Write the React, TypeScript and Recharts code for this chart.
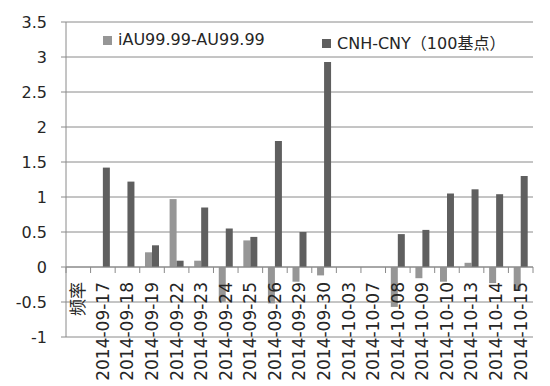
import React from 'react';
import {
  Bar,
  BarChart,
  CartesianGrid,
  Legend,
  ReferenceLine,
  XAxis,
  YAxis,
} from 'recharts';

const categories = [
  '频率',
  '2014-09-17',
  '2014-09-18',
  '2014-09-19',
  '2014-09-22',
  '2014-09-23',
  '2014-09-24',
  '2014-09-25',
  '2014-09-26',
  '2014-09-29',
  '2014-09-30',
  '2014-10-03',
  '2014-10-07',
  '2014-10-08',
  '2014-10-09',
  '2014-10-10',
  '2014-10-13',
  '2014-10-14',
  '2014-10-15',
];

const iauSpread = [
  null, 0, 0, 0.21, 0.97, 0.09, -0.5, 0.38, -0.52, -0.21, -0.12, 0, 0, -0.57,
  -0.16, -0.21, 0.06, -0.23, -0.34,
];

const cnhSpread = [
  null, 1.42, 1.22, 0.31, 0.09, 0.85, 0.55, 0.43, 1.8, 0.5, 2.93, 0, 0, 0.47,
  0.53, 1.05, 1.11, 1.04, 1.3,
];

const yTicks = [-1, -0.5, 0, 0.5, 1, 1.5, 2, 2.5, 3, 3.5];

const seriesNames = ['iAU99.99-AU99.99', 'CNH-CNY（100基点）'];

const data = categories.map((name, i) => ({
  name,
  iau: iauSpread[i],
  cnh: cnhSpread[i],
}));

const W = 550;
const H = 386;
const M = { top: 22, right: 17, bottom: 0, left: 0 };
const Y_AXIS_W = 66;
const X_AXIS_H = 49;
const plotW = W - M.left - M.right - Y_AXIS_W;
const plotH = H - M.top - M.bottom - X_AXIS_H;
const yMin = -1;
const yMax = 3.5;
const zeroY = M.top + (plotH * yMax) / (yMax - yMin);
const band = plotW / categories.length;

const FONT = '"DejaVu Sans", "Noto Sans CJK SC", sans-serif';
const GRID = '#8a8a8a';
const TEXT = '#262626';

const DateTick = (props: any) => {
  const { x, payload, index } = props;
  const last = index === categories.length - 1;
  return (
    <g>
      <line x1={x - band / 2} x2={x - band / 2} y1={zeroY} y2={zeroY + 6} stroke={GRID} />
      {last && (
        <line x1={x + band / 2} x2={x + band / 2} y1={zeroY} y2={zeroY + 6} stroke={GRID} />
      )}
      <text
        x={x}
        y={zeroY + 15}
        transform={`rotate(-90, ${x}, ${zeroY + 15})`}
        textAnchor='end'
        dy='0.35em'
        fontSize={17}
        fontFamily={FONT}
        fill={TEXT}
      >
        {payload.value}
      </text>
    </g>
  );
};

const legendPos = [103, 322];

const LegendContent = (props: any) => {
  const { payload } = props;
  return (
    <div style={{ position: 'relative', height: 0 }}>
      {payload.map((p: any) => (
        <div
          key={p.value}
          style={{
            position: 'absolute',
            left: legendPos[seriesNames.indexOf(p.value)],
            top: 30,
            display: 'flex',
            alignItems: 'center',
            whiteSpace: 'nowrap',
            fontFamily: FONT,
            fontSize: 16,
            color: TEXT,
          }}
        >
          <span
            style={{
              display: 'inline-block',
              width: 9,
              height: 9,
              background: p.color,
              marginRight: 6,
              marginTop: 2,
            }}
          />
          {p.value}
        </div>
      ))}
    </div>
  );
};

export default function App() {
  return (
    <div style={{ width: W, height: H, background: '#fff' }}>
      <style>{'body{margin:0}'}</style>
      <BarChart
        width={W}
        height={H}
        data={data}
        margin={M}
        barCategoryGap='21.5%'
        barGap={0}
      >
        <CartesianGrid vertical={false} stroke={GRID} />
        <XAxis
          dataKey='name'
          height={X_AXIS_H}
          axisLine={false}
          tickLine={false}
          interval={0}
          tick={<DateTick />}
        />
        <YAxis
          width={Y_AXIS_W}
          domain={[yMin, yMax]}
          ticks={yTicks}
          interval={0}
          stroke={GRID}
          tickSize={5}
          tickMargin={14}
          tick={{ fontSize: 16, fontFamily: FONT, fill: TEXT }}
        />
        <ReferenceLine y={0} stroke={GRID} />
        <Legend
          content={<LegendContent />}
          wrapperStyle={{ position: 'absolute', top: 0, left: 0, width: W, height: 0 }}
        />
        <Bar dataKey='iau' name={seriesNames[0]} fill='#969696' isAnimationActive={false} />
        <Bar dataKey='cnh' name={seriesNames[1]} fill='#5f5f5f' isAnimationActive={false} />
      </BarChart>
    </div>
  );
}
